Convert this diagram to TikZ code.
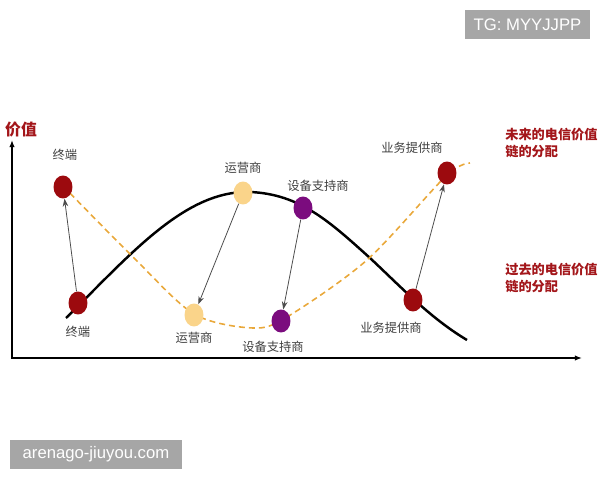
\documentclass[tikz,border=0pt]{standalone}
\usepackage{fontspec}
\setmainfont{Liberation Sans}
\newfontfamily\cjk{Noto Sans CJK SC}
\usetikzlibrary{shapes.geometric,arrows.meta}

\definecolor{darkRed}{HTML}{9C0A0E}
\definecolor{paleOrange}{HTML}{FAD48A}
\definecolor{deepPurple}{HTML}{7B0C7E}
\definecolor{dashOrange}{HTML}{E9A83A}
\definecolor{labelRed}{HTML}{A3161A}
\definecolor{markGray}{HTML}{A6A6A6}

\tikzset{
    player/.style={ellipse, minimum width=0.38cm, minimum height=0.46cm, inner sep=0pt},
    tag/.style={font=\cjk\fontsize{7}{8}\selectfont, text=black!75},
    shiftarrow/.style={-{Stealth[length=4.5pt,width=3.2pt]}, black!70, line width=0.45pt},
    note/.style={font=\cjk\bfseries\fontsize{7.5}{9.6}\selectfont, text=labelRed, align=left, anchor=north west, inner sep=0pt},
    stamp/.style={fill=markGray, text=white, font=\fontsize{9.5}{11}\selectfont, minimum height=0.58cm, inner sep=0pt}
}

\begin{document}
\begin{tikzpicture}[x=0.02cm, y=-0.02cm]
        \useasboundingbox (0,0) rectangle (600,480);

        % axes
        \coordinate (yTop) at (12,140);
        \coordinate (xEnd) at (582,358);
        \draw[{Latex[length=4pt,width=3pt]}-{Latex[length=4pt,width=3pt]}, line width=0.7pt] (yTop) |- (xEnd);
        \node[font=\cjk\bfseries\fontsize{9}{10}\selectfont, text=labelRed] (valueTag) at (21,130) {价值};

        % past value chain
        \draw[line width=1.4pt] (66,318) .. controls (130,255) and (185,190) .. (250,192)
            .. controls (300,194) and (330,222) .. (370,258)
            .. controls (400,286) and (430,318) .. (467,340);

        % future value chain
        \draw[dashOrange, line width=0.9pt, dash pattern=on 3.4pt off 2.3pt] plot[smooth] coordinates {(63,186) (133,257) (194,314) (253,328) (287,317) (367,260) (446,176) (470,163)};

        % players, future
        \node[player, fill=darkRed] (futTerm) at (63,187) {};
        \node[player, fill=paleOrange] (futOper) at (243,193) {};
        \node[player, fill=deepPurple] (futEquip) at (303,208) {};
        \node[player, fill=darkRed] (futServ) at (447,173) {};

        % players, past
        \node[player, fill=darkRed] (pastTerm) at (78,303) {};
        \node[player, fill=paleOrange] (pastOper) at (194,315) {};
        \node[player, fill=deepPurple] (pastEquip) at (281,321) {};
        \node[player, fill=darkRed] (pastServ) at (413,300) {};

        % shifts
        \draw[shiftarrow] (pastTerm) -- (futTerm);
        \draw[shiftarrow] (futOper) -- (pastOper);
        \draw[shiftarrow] (futEquip) -- (pastEquip);
        \draw[shiftarrow] (pastServ) -- (futServ);

        % labels
        \node[tag] (futTermTag) at (65,155) {终端};
        \node[tag] (pastTermTag) at (78,332) {终端};
        \node[tag] (futOperTag) at (243,168) {运营商};
        \node[tag] (pastOperTag) at (194,338) {运营商};
        \node[tag] (futEquipTag) at (318,186) {设备支持商};
        \node[tag] (pastEquipTag) at (273,347) {设备支持商};
        \node[tag] (futServTag) at (412,148) {业务提供商};
        \node[tag] (pastServTag) at (391,328) {业务提供商};

        \node[note] (futNote) at (505,128) {未来的电信价值\\链的分配};
        \node[note] (pastNote) at (505,263) {过去的电信价值\\链的分配};

        % marks
        \node[stamp, minimum width=2.5cm] (tgMark) at (527.5,24.5) {TG: MYYJJPP};
        \node[stamp, minimum width=3.44cm] (siteMark) at (96,454.5) {arenago-jiuyou.com};

    \end{tikzpicture}
\end{document}
